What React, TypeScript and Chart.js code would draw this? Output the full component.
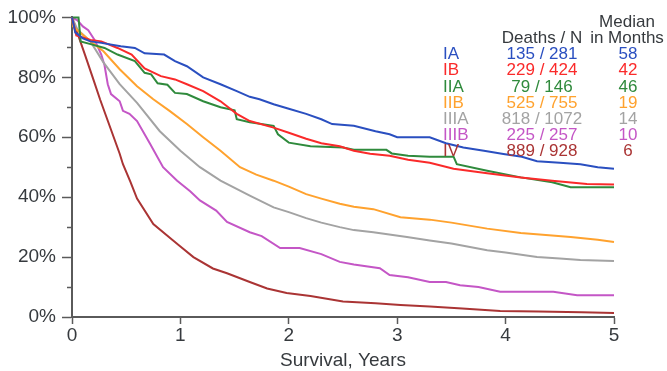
import React, { useEffect, useRef } from "react";
import { Chart, registerables } from "chart.js";
Chart.register(...registerables);

const stages = ["IA", "IB", "IIA", "IIB", "IIIA", "IIIB", "IV"];
const deaths = [135, 229, 79, 525, 818, 225, 889];
const totals = [281, 424, 146, 755, 1072, 257, 928];
const medians = [58, 42, 46, 19, 14, 10, 6];
const xTickValues = [0, 1, 2, 3, 4, 5];
const yTickValues = [0, 20, 40, 60, 80, 100];

const iaTimes = [0, 0.03, 0.1, 0.17, 0.27, 0.45, 0.58, 0.67, 0.85, 0.95, 1.06, 1.21, 1.37, 1.52, 1.64, 1.73, 1.86, 2.0, 2.16, 2.3, 2.4, 2.6, 2.8, 2.93, 3.0, 3.3, 3.45, 3.61, 3.8, 3.98, 4.15, 4.29, 4.5, 4.69, 4.85, 5.0];
const iaSurv = [100, 95, 93, 92, 91.5, 90.4, 89.8, 88, 87.6, 85.4, 83.7, 80, 77.7, 75.4, 73.5, 72.7, 71, 69.5, 67.8, 66, 64.4, 63.8, 62, 61, 60, 60, 58, 56.6, 55.5, 54.4, 53.5, 52, 51.5, 51, 50, 49.5];

const ibTimes = [0, 0.04, 0.17, 0.27, 0.42, 0.55, 0.67, 0.82, 0.95, 1.06, 1.21, 1.37, 1.52, 1.64, 1.86, 2.0, 2.16, 2.3, 2.47, 2.6, 2.75, 2.93, 3.1, 3.3, 3.52, 3.83, 4.14, 4.43, 4.75, 5.0];
const ibSurv = [100, 94, 92.5, 92, 89.8, 87.6, 83, 80.4, 79.3, 77.7, 75.4, 72, 67.8, 65.4, 63.2, 61.5, 59.5, 58, 57, 55.5, 54.5, 53.8, 52.5, 51.5, 49.5, 48, 46.6, 45.5, 44.4, 44.2];

const iiaTimes = [0, 0.06, 0.08, 0.18, 0.3, 0.42, 0.58, 0.67, 0.73, 0.79, 0.88, 0.95, 1.06, 1.21, 1.37, 1.5, 1.52, 1.64, 1.86, 1.9, 2.0, 2.2, 2.5, 2.6, 2.9, 2.95, 3.1, 3.3, 3.52, 3.55, 3.83, 4.14, 4.43, 4.6, 5.0];
const iiaSurv = [100, 100, 92, 91, 89.8, 87.6, 85.4, 81.5, 81, 78, 77.5, 74.8, 74.4, 72, 70, 69, 66, 65, 63.8, 61, 58.2, 57, 56.6, 55.8, 55.8, 54.6, 53.8, 53.5, 53.5, 51, 48.8, 46.6, 45, 43.3, 43.3];

const iibTimes = [0, 0.01, 0.17, 0.29, 0.44, 0.6, 0.75, 0.9, 1.06, 1.21, 1.37, 1.55, 1.7, 1.86, 2.0, 2.16, 2.3, 2.47, 2.6, 2.78, 3.03, 3.3, 3.5, 3.83, 4.14, 4.4, 4.6, 4.85, 5.0];
const iibSurv = [100, 97, 92, 88.7, 82.7, 77, 72.7, 68.8, 64.4, 60, 55.5, 50, 47.5, 45.5, 43.5, 41, 39.5, 37.8, 36.8, 36, 33.3, 32.5, 31.5, 29.5, 28, 27.3, 26.7, 25.8, 25];

const iiiaTimes = [0, 0.05, 0.17, 0.29, 0.44, 0.6, 0.81, 1.0, 1.18, 1.37, 1.64, 1.86, 2.0, 2.16, 2.3, 2.47, 2.6, 2.78, 3.09, 3.3, 3.5, 3.83, 4.0, 4.29, 4.5, 4.69, 5.0];
const iiiaSurv = [100, 96, 92, 85, 77.7, 71.5, 62, 55.5, 50, 45.5, 40.5, 36.6, 35, 33, 31.5, 30, 29, 28.3, 26.7, 25.5, 24.5, 22.3, 21.5, 20, 19.5, 19, 18.7];

const iiibTimes = [0, 0.05, 0.1, 0.15, 0.21, 0.27, 0.3, 0.33, 0.36, 0.44, 0.47, 0.53, 0.6, 0.72, 0.84, 0.97, 1.09, 1.18, 1.33, 1.43, 1.64, 1.75, 1.92, 2.1, 2.3, 2.47, 2.6, 2.84, 2.93, 3.1, 3.3, 3.45, 3.58, 3.75, 3.95, 4.2, 4.44, 4.66, 5.0];
const iiibSurv = [100, 99, 97, 95.7, 92.4, 87.6, 84, 77.7, 74.4, 72, 68.8, 67.8, 65.4, 57.8, 50, 45.5, 42, 38.9, 35.5, 31.7, 28.3, 27, 23, 23, 21, 18.4, 17.5, 16.3, 14, 13.3, 11.7, 11.7, 10.6, 10, 8.4, 8.4, 8.4, 7.3, 7.3];

const ivTimes = [0, 0.12, 0.2, 0.26, 0.33, 0.44, 0.47, 0.54, 0.6, 0.75, 0.93, 1.0, 1.12, 1.3, 1.43, 1.64, 1.8, 1.98, 2.2, 2.5, 2.8, 3.03, 3.3, 3.6, 3.95, 4.3, 4.7, 5.0];
const ivSurv = [100, 87.5, 79, 72.5, 65.5, 54.5, 51, 45, 39.5, 31, 25.6, 23.5, 20, 16.2, 14.6, 11.7, 9.5, 8, 7, 5.2, 4.6, 4, 3.5, 2.8, 2, 1.8, 1.6, 1.3];

const seriesTimes = [iaTimes, ibTimes, iiaTimes, iibTimes, iiiaTimes, iiibTimes, ivTimes];
const seriesSurv = [iaSurv, ibSurv, iiaSurv, iibSurv, iiiaSurv, iiibSurv, ivSurv];

const COLORS = ["#2a4fc0", "#fa2a2a", "#2f8a3c", "#ffa22e", "#a3a3a3", "#c456c6", "#aa3434"];
const FONT = "'Liberation Sans', Arial, sans-serif";
const TEXT = "#363a3e";
const AXIS = "#5a5a5a";

export default function App() {
  const ref = useRef<HTMLCanvasElement | null>(null);
  useEffect(() => {
    if (!ref.current) return;
    const legendPlugin = {
      id: "kmLegend",
      afterDraw(chart: any) {
        const ctx = chart.ctx as CanvasRenderingContext2D;
        const ys = chart.scales.y;
        const area = chart.chartArea;
        ctx.save();
        ctx.strokeStyle = AXIS;
        ctx.lineWidth = 1.5;
        for (let v = 10; v < 100; v += 20) {
          const py = Math.round(ys.getPixelForValue(v)) + 0.5;
          ctx.beginPath();
          ctx.moveTo(area.left - 5, py);
          ctx.lineTo(area.left, py);
          ctx.stroke();
        }
        ctx.font = `17px ${FONT}`;
        ctx.textBaseline = "middle";
        ctx.fillStyle = TEXT;
        ctx.textAlign = "center";
        ctx.fillText("Median", 627, 22);
        ctx.fillText("Deaths / N", 542, 38);
        ctx.fillText("in Months", 627, 38);
        for (let i = 0; i < stages.length; i++) {
          const y = 54.5 + i * 16.2;
          ctx.fillStyle = COLORS[i];
          ctx.textAlign = "left";
          ctx.fillText(stages[i], 443, y);
          ctx.textAlign = "center";
          ctx.fillText(`${deaths[i]} / ${totals[i]}`, 542, y);
          ctx.fillText(String(medians[i]), 628, y);
        }
        ctx.restore();
      },
    };
    const chart = new Chart(ref.current, {
      type: "line",
      data: {
        datasets: stages.map((s, i) => ({
          label: s,
          data: seriesTimes[i].map((t, j) => ({ x: t, y: seriesSurv[i][j] })),
          borderColor: COLORS[i],
          backgroundColor: COLORS[i],
          borderWidth: 2,
          pointRadius: 0,
          tension: 0,
          fill: false,
          clip: false,
        })),
      },
      options: {
        animation: false,
        responsive: false,
        devicePixelRatio: 1,
        layout: { padding: { top: 16, right: 53, left: 0, bottom: 0 } },
        plugins: { legend: { display: false }, tooltip: { enabled: false } },
        scales: {
          x: {
            type: "linear",
            min: 0,
            max: 5,
            afterFit: (s: any) => { s.height = 54; },
            afterBuildTicks: (s: any) => { s.ticks = xTickValues.map((v) => ({ value: v })); },
            border: { color: AXIS, width: 2 },
            grid: { drawOnChartArea: false, tickLength: 7, tickColor: AXIS, tickWidth: 1.5 },
            ticks: { padding: 0, color: TEXT, font: { family: FONT, size: 19 }, maxRotation: 0 },
            title: { display: true, text: "Survival, Years", color: TEXT, font: { family: FONT, size: 19, lineHeight: 1.0 }, padding: { top: 0, bottom: 1 } },
          },
          y: {
            min: 0,
            max: 100,
            afterFit: (s: any) => { s.width = 72; },
            afterBuildTicks: (s: any) => { s.ticks = yTickValues.map((v) => ({ value: v })); },
            border: { color: AXIS, width: 2 },
            grid: { drawOnChartArea: false, tickLength: 10, tickColor: AXIS, tickWidth: 1.5 },
            ticks: { padding: 6, color: TEXT, font: { family: FONT, size: 19 }, callback: (v: any) => `${v}%` },
          },
        },
      },
      plugins: [legendPlugin],
    } as any);
    return () => chart.destroy();
  }, []);
  return (
    <div style={{ position: "absolute", left: 0, top: 0, width: 667, height: 371, background: "#fff" }}>
      <canvas ref={ref} width={667} height={371} style={{ width: 667, height: 371, display: "block" }} />
    </div>
  );
}
